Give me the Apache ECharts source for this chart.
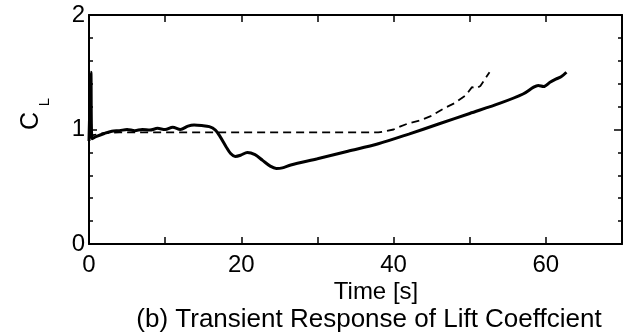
<!DOCTYPE html>
<html>
<head>
<meta charset="utf-8">
<script src="https://cdn.jsdelivr.net/npm/echarts@6/dist/echarts.min.js"></script>
<style>
html,body{margin:0;padding:0;background:#fff;}
#chart{width:625px;height:335px;}
</style>
</head>
<body>
<div id="chart"></div>
<script>
// ---- data ----
const solidTime = [0, 0.25, 0.4, 1, 2, 3, 4, 5, 6, 7, 8, 9, 10, 11, 12, 13, 13.8, 14.8, 15.8, 16.6, 17.2, 18.0, 18.6, 19.2, 19.9, 20.8, 21.8, 22.8, 23.8, 24.6, 25.4, 26.5, 30, 34, 38, 42, 46, 50, 54, 57, 58.4, 59.0, 59.7, 60.6, 61.3, 62.0, 62.7];
const solidCL   = [0.90, 1.50, 0.92, 0.94, 0.965, 0.985, 0.99, 1.0, 0.99, 1.0, 0.995, 1.01, 1.0, 1.02, 1.0, 1.03, 1.04, 1.035, 1.025, 0.995, 0.94, 0.85, 0.79, 0.765, 0.775, 0.80, 0.78, 0.73, 0.68, 0.66, 0.665, 0.69, 0.745, 0.81, 0.875, 0.96, 1.05, 1.14, 1.23, 1.31, 1.37, 1.385, 1.375, 1.415, 1.44, 1.46, 1.50];
const dashedTime = [0, 0.5, 2, 4, 10, 20, 30, 38, 39, 40, 41, 42, 43.5, 45, 46.5, 48, 49.5, 50.3, 50.9, 51.4, 51.8, 52.2, 52.6];
const dashedCL   = [0.93, 0.95, 0.97, 0.975, 0.975, 0.975, 0.975, 0.975, 0.985, 1.0, 1.03, 1.055, 1.08, 1.12, 1.18, 1.23, 1.30, 1.37, 1.36, 1.38, 1.42, 1.46, 1.50];
const xTickLabels = [0, 20, 40, 60];
const yTickLabels = [0, 1, 2];
const xLabel = 'Time [s]';
const captionText = '(b) Transient Response of Lift Coeffcient';

const zip = (a, b) => a.map((v, i) => [v, b[i]]);
const FONT = "'Liberation Sans', Arial, Helvetica, sans-serif";

const chart = echarts.init(document.getElementById('chart'), null, {renderer: 'canvas'});
const axisLine = {show: true, onZero: false, lineStyle: {color: '#000', width: 2}};
const common = {min: 0, splitLine: {show: false}, axisLine: axisLine};

chart.setOption({
  animation: false,
  backgroundColor: '#fff',
  grid: {left: 89, right: 3, top: 15, bottom: 91, containLabel: false},
  xAxis: [
    Object.assign({}, common, {
      type: 'value', max: 70, interval: 10, position: 'bottom',
      axisTick: {show: true, inside: true, length: 7, lineStyle: {color: '#000', width: 1.5}},
      axisLabel: {show: true, margin: 9, color: '#000', fontFamily: FONT, fontSize: 24,
        formatter: v => xTickLabels.indexOf(v) >= 0 ? String(v) : ''}
    }),
    Object.assign({}, common, {
      type: 'value', max: 70, interval: 10, position: 'top',
      axisTick: {show: true, inside: true, length: 7, lineStyle: {color: '#000', width: 1.5}},
      axisLabel: {show: false}
    })
  ],
  yAxis: [
    Object.assign({}, common, {
      type: 'value', max: 2, interval: 1, position: 'left',
      axisTick: {show: true, inside: true, length: 8, lineStyle: {color: '#000', width: 1.5}},
      minorTick: {show: true, splitNumber: 5, length: 4, lineStyle: {color: '#000', width: 1.5}},
      axisLabel: {show: true, margin: 4, color: '#000', fontFamily: FONT, fontSize: 24,
        formatter: v => yTickLabels.indexOf(v) >= 0 ? String(v) : ''}
    }),
    Object.assign({}, common, {
      type: 'value', max: 2, interval: 1, position: 'right',
      axisTick: {show: true, inside: true, length: 8, lineStyle: {color: '#000', width: 1.5}},
      minorTick: {show: true, splitNumber: 5, length: 4, lineStyle: {color: '#000', width: 1.5}},
      axisLabel: {show: false}
    })
  ],
  graphic: [
    {type: 'text', x: 31, y: 121, rotation: Math.PI / 2,
     style: {text: 'C', font: '25px ' + FONT, fill: '#000', textAlign: 'center', textVerticalAlign: 'middle'}},
    {type: 'text', x: 45, y: 102, rotation: Math.PI / 2,
     style: {text: 'L', font: '15px ' + FONT, fill: '#000', textAlign: 'center', textVerticalAlign: 'middle'}},
    {type: 'text', x: 376, y: 292,
     style: {text: xLabel, font: '24px ' + FONT, fill: '#000', textAlign: 'center', textVerticalAlign: 'middle'}},
    {type: 'text', x: 369, y: 320,
     style: {text: captionText, font: '26px ' + FONT, fill: '#000', textAlign: 'center', textVerticalAlign: 'middle'}}
  ],
  series: [
    {type: 'line', name: 'dashed', data: zip(dashedTime, dashedCL), showSymbol: false, symbol: 'none',
     lineStyle: {color: '#000', width: 1.8, type: [8, 5]}, z: 2},
    {type: 'line', name: 'solid', data: zip(solidTime, solidCL), showSymbol: false, symbol: 'none', smooth: 0.3,
     lineStyle: {color: '#000', width: 3}, z: 3}
  ]
});
</script>
</body>
</html>
